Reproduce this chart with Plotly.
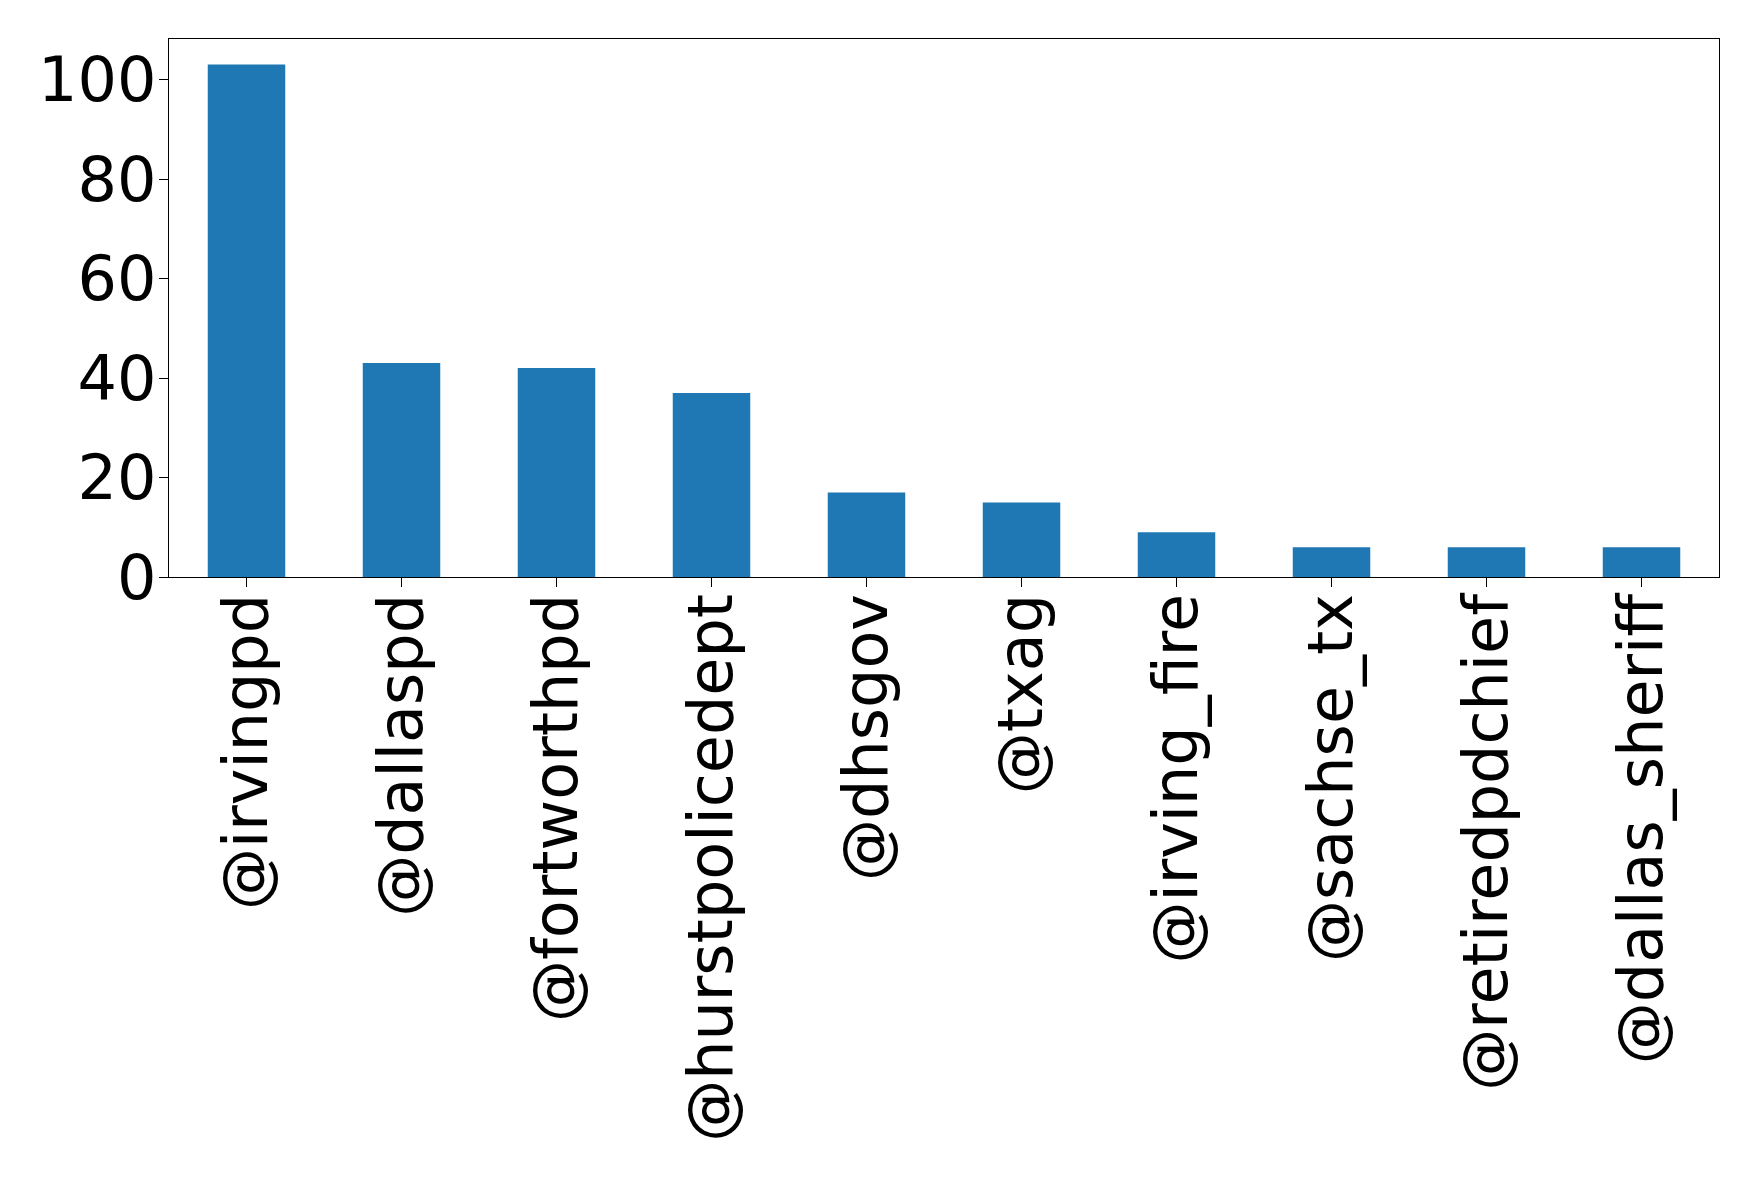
import plotly.graph_objects as go

categories = ["@irvingpd", "@dallaspd", "@fortworthpd", "@hurstpolicedept", "@dhsgov",
              "@txag", "@irving_fire", "@sachse_tx", "@retiredpdchief", "@dallas_sheriff"]
counts = [103, 43, 42, 37, 17, 15, 9, 6, 6, 6]
y_ticks = [0, 20, 40, 60, 80, 100]

fig = go.Figure(go.Bar(x=list(range(len(categories))), y=counts, width=0.5,
                       marker=dict(color="#1f77b4", line=dict(width=0))))

font = dict(family="DejaVu Sans", size=62, color="black")
fig.update_layout(
    width=1758, height=1180,
    margin=dict(l=161, r=47, t=31, b=611),
    plot_bgcolor="white", paper_bgcolor="white",
    showlegend=False,
    font=font,
)
fig.update_xaxes(
    range=[-0.5, len(categories) - 0.5],
    tickmode="array", tickvals=list(range(len(categories))), ticktext=categories,
    tickangle=-90, ticks="outside", ticklen=9, tickwidth=1.3, tickcolor="black",
    ticklabelstandoff=-18,
    showline=True, linecolor="black", linewidth=1.3, mirror=True,
    showgrid=False, zeroline=False, tickfont=font,
)
fig.update_yaxes(
    range=[0, 108.15],
    tickmode="array", tickvals=y_ticks, ticktext=[str(v) for v in y_ticks],
    ticks="outside", ticklen=9, tickwidth=1.3, tickcolor="black",
    ticklabelstandoff=-10,
    showline=True, linecolor="black", linewidth=1.3, mirror=True,
    showgrid=False, zeroline=False, tickfont=font,
)
fig.write_html("out.html")
